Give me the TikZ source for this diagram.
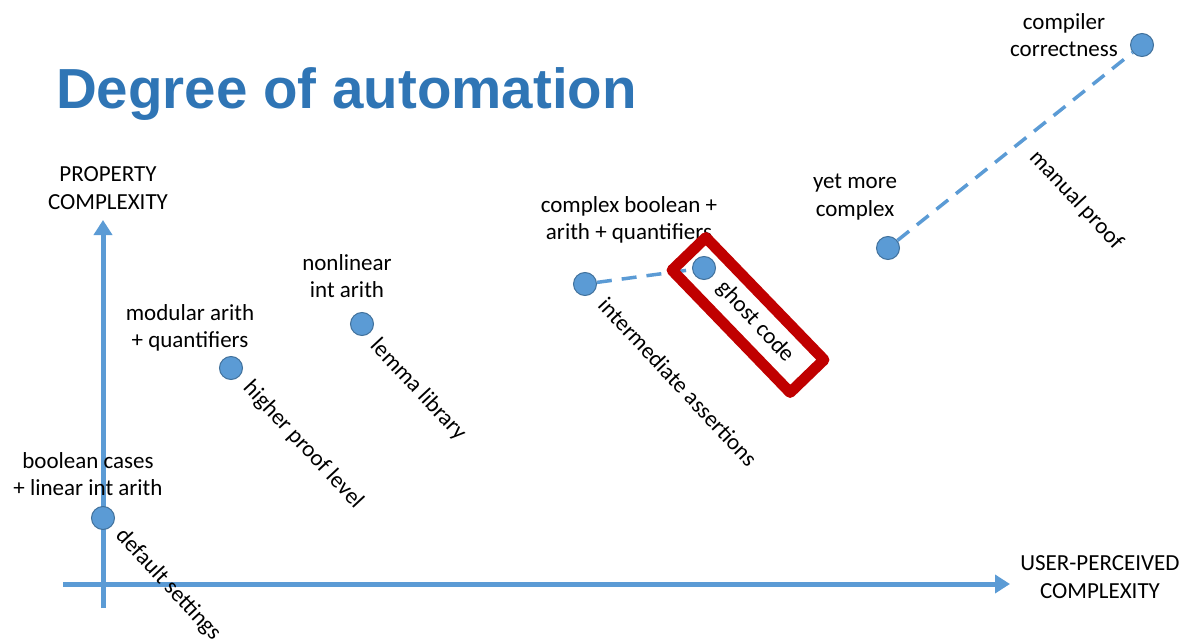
\documentclass[tikz,border=0pt]{standalone}
\usepackage{fontspec}
\setmainfont{Carlito}
\newfontfamily\titlefont{Liberation Sans}
\usetikzlibrary{arrows.meta}
\definecolor{axisblue}{HTML}{5B9BD5}
\definecolor{dotborder}{HTML}{41719C}
\definecolor{titleblue}{HTML}{2F75B5}
\definecolor{boxred}{HTML}{C00000}
\begin{document}
\begin{tikzpicture}[x=1pt,y=-1pt,
  axis/.style={draw=axisblue,line width=5pt,-{Triangle[length=15pt,width=18pt]}},
  dot/.style={circle,fill=axisblue,draw=dotborder,line width=1pt,minimum size=23pt,inner sep=0pt},
  lbl/.style={align=center,font=\fontsize{23}{27.5}\selectfont,inner sep=0pt},
  rlbl/.style={font=\fontsize{23}{27}\selectfont,inner sep=0pt,rotate=-47},
  dashline/.style={draw=axisblue,line width=3.5pt,dash pattern=on 15pt off 10pt},
  hilite/.style={draw=boxred,line width=11pt,minimum width=170pt,minimum height=47pt,rotate=-46,line join=round}
]
\useasboundingbox (0,0) rectangle (1187,642);
\node[anchor=base west,inner sep=0pt,text=titleblue,font=\titlefont\bfseries\fontsize{56.5}{60}\selectfont] (title) at (56,109) {Degree of automation};

% axes
\coordinate (ybot) at (103,608);
\coordinate (ytop) at (103,220);
\coordinate (xleft) at (63,584);
\coordinate (xright) at (1010,584);
\draw[axis] (ybot) -- (ytop);
\draw[axis] (xleft) -- (xright);
\node[lbl] (ylab) at (108,188) {PROPERTY\\COMPLEXITY};
\node[lbl] (xlab) at (1100,577) {USER-PERCEIVED\\COMPLEXITY};

% dots
\node[dot] (d1) at (103,518) {};
\node[dot] (d2) at (231,368) {};
\node[dot] (d3) at (362,324) {};
\node[dot] (d4) at (585,284) {};
\node[dot] (d5) at (704,268) {};
\node[dot] (d6) at (888,248) {};
\node[dot] (d7) at (1142,45) {};

% dashed connectors
\draw[dashline] (d4) -- (d5);
\draw[dashline] (d6) -- (d7);

% labels above
\node[lbl] (l1) at (88,474) {boolean cases\\+ linear int arith};
\node[lbl] (l2) at (190,328) {modular arith\\+ quantifiers};
\node[lbl] (l3) at (347,276) {nonlinear\\int arith};
\node[lbl] (l4) at (629,220) {complex boolean +\\arith + quantifiers};
\node[lbl] (l6) at (855,197) {yet more\\complex};
\node[lbl] (l7) at (1064,35) {compiler\\correctness};

% rotated labels
\node[rlbl] (r1) at (168,585) {default settings};
\node[rlbl] (r2) at (303,445) {higher proof level};
\node[rlbl] (r3) at (418,390) {lemma library};
\node[rlbl] (r4) at (678,382) {intermediate assertions};
\node[rlbl] (r5) at (755,322) {ghost code};
\node[rlbl] (r7) at (1076,200) {manual proof};

% highlight box
\node[hilite] (box) at (748,315) {};
\end{tikzpicture}
\end{document}
